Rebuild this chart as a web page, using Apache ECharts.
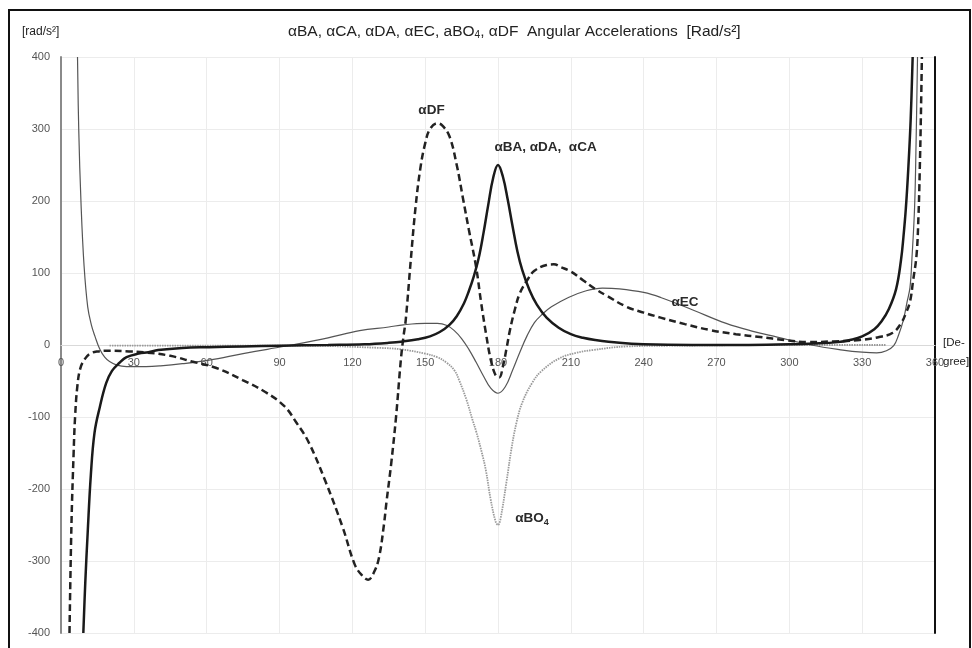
<!DOCTYPE html>
<html>
<head>
<meta charset="utf-8">
<script src="https://cdn.jsdelivr.net/npm/echarts@6/dist/echarts.min.js"></script>
<style>html,body{margin:0;padding:0;background:#fff}#c{width:972px;height:648px}</style>
</head>
<body>
<div id="c"></div>
<script>
// ---- data (degree, rad/s^2) ----
var xTicks = [0, 30, 60, 90, 120, 150, 180, 210, 240, 270, 300, 330, 360];
var yTicks = [-400, -300, -200, -100, 0, 100, 200, 300, 400];

var dataBA = [[9.2,-400],[10,-330],[11,-260],[12.3,-180],[13.8,-122],[16,-86],[18.6,-53],[21,-36],[24,-25],[27,-17],[32,-12],[36,-10],[40,-7],[50,-4],[61,-3],[75,-2],[90,-1],[110,0],[125,1],[135,3],[141,5],[147,8],[152,12],[156,18],[160,28],[163,40],[166,58],[168,75],[170,95],[172,120],[174,155],[176,195],[178,232],[180,250],[182,234],[184,202],[186,165],[188,130],[190,104],[193,76],[196,56],[200,38],[205,24],[210,15],[215,10],[220,7],[230,3],[240,1],[260,0],[280,0],[300,1],[310,2],[320,4],[325,7],[330,12],[335,22],[338,33],[341,50],[344,78],[346,118],[347,150],[348,190],[349,245],[350,315],[350.8,400]];

var dataEC = [[6.8,400],[7.3,300],[8.3,192],[9.5,110],[11,53],[12.5,28],[14,12],[16,-6],[18,-17],[20,-23],[23,-28],[27,-30],[35,-30],[41,-29],[50,-26],[61,-21],[75,-12],[85,-6],[95,0],[110,10],[123,20],[135,25],[141,28],[150,30],[155,30],[159,27],[162,20],[165,9],[168,-6],[171,-24],[174,-43],[177,-60],[180,-67],[183,-58],[186,-35],[189,-10],[192,13],[195,31],[198,42],[202,53],[209,66],[216,75],[223,79],[230,78],[240,73],[247,66],[260,49],[274,30],[285,19],[295,11],[309,0],[322,-7],[330,-10],[336,-11],[340,-8],[343,-1],[345,14],[347,35],[348.5,60],[349.7,80],[350.5,120],[351.6,192],[352.2,280],[352.8,400]];

var dataDF = [[3.5,-400],[4.3,-250],[5.2,-150],[5.8,-100],[6.8,-55],[8,-32],[9.7,-20],[12,-12],[15,-9],[20,-8],[28,-9],[34,-10],[45,-15],[54,-23],[64,-32],[75,-49],[84,-65],[92,-85],[97,-108],[102,-135],[109,-190],[116,-253],[121,-305],[124,-320],[126.5,-326],[129,-315],[131,-295],[133,-250],[134,-220],[136,-165],[138,-100],[140,-20],[141,10],[142,35],[144,115],[146,190],[148,245],[150,280],[152,300],[155,308],[157,305],[160,290],[163,250],[165.5,205],[168,160],[171,108],[173,60],[175,17],[177,-20],[179,-42],[180.5,-45],[182,-30],[183.5,-5],[185,22],[187,50],[189,72],[192,90],[195,103],[200,111],[203,112],[206,108],[210,102],[215,90],[220,78],[225,68],[233,53],[240,45],[247,38],[257,29],[267,21],[278,15],[288,11],[298,7],[308,4],[318,5],[329,7],[337,11],[342.6,17],[346,30],[348,44],[349.7,60],[351,90],[352.4,125],[353.2,180],[353.7,240],[354.2,320],[354.6,400]];

var dataBO4 = [[20,-1],[60,-1],[100,-1],[131,-4],[140,-6],[150,-12],[155,-17],[159,-25],[162,-35],[164,-49],[167,-76],[169.5,-104],[171,-120],[173,-145],[175,-174],[177,-215],[179,-245],[180,-250],[181,-242],[183.5,-190],[185.5,-145],[187.6,-108],[190,-80],[194,-53],[198,-36],[205,-19],[212,-11],[219,-7],[233,-2],[250,-1],[300,0],[340,0]];

// label anchors [degree, value]
var labelDF = [152.6, 326];
var labelBA = [199.6, 275];
var labelEC = [257, 60];
var labelBO4 = [194, -241];

var FONT = '"Liberation Sans", Arial, sans-serif';

function tag(coord, text) {
  return {
    coord: coord, symbol: 'circle', symbolSize: 1,
    itemStyle: { color: 'rgba(0,0,0,0)' },
    label: { show: true, position: 'inside', formatter: text, color: '#2a2a2a', fontSize: 13.5, fontWeight: 'bold', fontFamily: FONT,
      rich: { s: { fontSize: 9, fontWeight: 'bold', color: '#2a2a2a', fontFamily: FONT, padding: [7, 0, 0, 0] } } }
  };
}

var chart = echarts.init(document.getElementById('c'), null, { renderer: 'canvas' });
var option = {
  animation: false,
  backgroundColor: '#fff',
  title: [
    { text: 'αBA, αCA, αDA, αEC, aBO{s|4}, αDF  Angular Accelerations  [Rad/s²]', left: 283, top: 18,
      textStyle: { fontSize: 15.5, fontWeight: 'normal', color: '#222', fontFamily: FONT,
        rich: { s: { fontSize: 10, color: '#222', fontFamily: FONT, padding: [7, 0, 0, 0] } } } },
    { text: '[rad/s²]', left: 17, top: 21, textStyle: { fontSize: 12, fontWeight: 'normal', color: '#222', fontFamily: FONT } },
    { text: '[De-\ngree]', left: 938, top: 328, textStyle: { fontSize: 11.5, fontWeight: 'normal', color: '#222', lineHeight: 19, fontFamily: FONT } }
  ],
  graphic: [
    { type: 'rect', shape: { x: 9, y: 10, width: 961, height: 660 }, style: { fill: 'none', stroke: '#111', lineWidth: 2 }, silent: true, z: -1 }
  ],
  grid: { left: 61, right: 37, top: 57, bottom: 15, containLabel: false },
  xAxis: {
    type: 'value', min: 0, max: 360, interval: 30, position: 'bottom', offset: -288,
    axisLine: { show: true, onZero: false, lineStyle: { color: '#d9d9d9', width: 1 } },
    axisTick: { show: false },
    axisLabel: { color: '#555', fontSize: 11, margin: 12, fontFamily: FONT, customValues: xTicks },
    splitLine: { show: true, lineStyle: { color: '#ececec', width: 1 } }
  },
  yAxis: [
    { type: 'value', min: -400, max: 400, interval: 100,
      axisLine: { show: true, onZero: false, lineStyle: { color: '#8a8a8a', width: 2 } },
      axisTick: { show: false },
      axisLabel: { color: '#555', fontSize: 11, margin: 11, fontFamily: FONT, customValues: yTicks },
      splitLine: { show: true, lineStyle: { color: '#ececec', width: 1 } } },
    { type: 'value', min: -400, max: 400, interval: 100, position: 'right',
      axisLine: { show: true, onZero: false, lineStyle: { color: '#111', width: 2 } },
      axisTick: { show: false }, axisLabel: { show: false }, splitLine: { show: false } }
  ],
  series: [
    { name: 'αBO4', type: 'line', data: dataBO4, showSymbol: false, smooth: 0.4, z: 2,
      lineStyle: { color: '#9a9a9a', width: 1.8, type: [1.5, 1] },
      markPoint: { silent: true, data: [tag(labelBO4, 'αBO{s|4}')] } },
    { name: 'αEC', type: 'line', data: dataEC, showSymbol: false, smooth: 0.4, z: 3,
      lineStyle: { color: '#555', width: 1.2 },
      markPoint: { silent: true, data: [tag(labelEC, 'αEC')] } },
    { name: 'αDF', type: 'line', data: dataDF, showSymbol: false, smooth: 0.4, z: 4,
      lineStyle: { color: '#222', width: 2.5, type: [7, 4] },
      markPoint: { silent: true, data: [tag(labelDF, 'αDF')] } },
    { name: 'αBA', type: 'line', data: dataBA, showSymbol: false, smooth: 0.4, z: 5,
      lineStyle: { color: '#1a1a1a', width: 2.5 },
      markPoint: { silent: true, data: [tag(labelBA, 'αBA, αDA,  αCA')] } }
  ]
};
chart.setOption(option);
</script>
</body>
</html>
